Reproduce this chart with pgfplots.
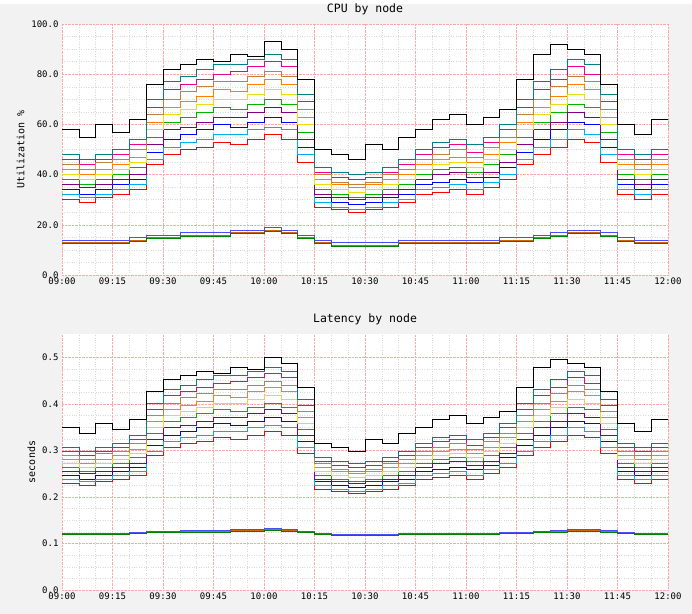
\documentclass[border=0pt]{standalone}
\usepackage{pgfplots}
\usepackage{pgfplotstable}
\usepackage{fontspec}
\setmainfont{DejaVu Sans Mono}
\pgfplotsset{compat=1.18}
\pgfplotstableread{
t s1 s2 s3 s4 s5 s6 s7 s8 s9 s10 mx l1 l2 l3
0 30 34 38 42 46 32 36 40 44 48 58 13 14 12.5
5 29 32 36 40 44 31 35 38 42 46 55 13 14 12.5
10 31 34 38 42 46 32 36 40 45 48 60 13 14 12.5
15 32 36 40 44 48 34 38 42 46 50 57 13 14 12.5
20 34 38 43 47 52 36 40 45 50 54 62 14 15 13.5
25 44 49 55 61 67 46 52 58 64 70 76 15 16 14.5
30 48 54 61 67 74 51 58 64 70 77 82 15 16 14.5
35 50 56 63 69 76 53 59 66 73 79 84 16 17 15.5
40 51 58 65 71 78 54 61 68 75 82 86 16 17 15.5
45 53 60 67 74 80 56 63 70 77 84 85 16 17 15.5
50 52 59 66 73 81 56 63 70 77 84 88 17 18 16.5
55 54 61 68 76 83 58 65 72 79 86 87 17 18 16.5
60 56 63 70 78 85 59 67 74 81 88 93 18 19 17.5
65 54 61 68 76 83 58 65 72 79 86 90 17 18 16.5
70 45 51 57 63 69 48 54 60 66 72 78 15 16 14.5
75 27 31 34 38 41 29 32 36 40 43 50 13 14 12.5
80 26 29 32 36 39 27 31 34 37 41 48 12 13 11.5
85 25 28 31 35 38 26 30 33 36 40 46 12 13 11.5
90 26 29 32 36 39 27 31 34 37 41 52 12 13 11.5
95 27 31 34 38 41 29 32 36 40 43 50 12 13 11.5
100 29 32 36 40 44 30 34 38 42 46 55 13 14 12.5
105 32 36 40 44 48 34 38 42 46 50 58 13 14 12.5
110 33 37 42 46 51 35 40 44 48 53 62 13 14 12.5
115 34 38 43 47 52 36 41 45 50 54 64 13 14 12.5
120 32 37 41 45 49 34 39 43 47 52 60 13 14 12.5
125 35 39 44 48 53 37 41 46 51 55 63 13 14 12.5
130 38 43 48 53 58 40 45 50 55 60 66 14 15 13.5
135 44 49 55 61 67 46 52 58 64 70 78 14 15 13.5
140 48 54 61 67 74 51 58 64 70 77 88 15 16 14.5
145 51 58 65 71 78 54 61 68 75 82 92 16 17 15.5
150 54 61 68 76 83 58 65 72 79 86 90 17 18 16.5
155 53 60 67 74 80 56 63 70 77 84 88 17 18 16.5
160 45 51 57 63 69 48 54 60 66 72 76 16 17 15.5
165 32 36 40 44 48 34 38 42 46 50 60 14 15 13.5
170 30 34 38 42 46 32 36 40 44 48 56 13 14 12.5
175 32 36 40 44 48 34 38 42 46 50 62 13 14 12.5
180 30 34 38 42 46 32 36 40 44 48 58 13 14 12.5
}\cpu
\definecolor{bg}{RGB}{242,242,242}
\pgfplotsset{
  common/.style={
    scale only axis, width=606pt, xmin=0, xmax=180,
    xtick={0,15,...,180},
    xticklabels={09:00,09:15,09:30,09:45,10:00,10:15,10:30,10:45,11:00,11:15,11:30,11:45,12:00},
    xticklabel style={text height=1.6ex, text depth=0.2ex, inner sep=1pt},
    minor x tick num=2, minor y tick num=3,
    grid=both,
    major grid style={red!35, densely dotted},
    minor grid style={gray!30, dotted},
    axis background/.style={fill=white},
    axis line style={draw=none},
    tick style={draw=none},
    tick label style={font=\fontsize{9}{10}\selectfont},
    label style={font=\fontsize{10}{11}\selectfont},
    title style={font=\fontsize{11.5}{13}\selectfont},
    /pgf/number format/assume math mode=true,
    yticklabel style={/pgf/number format/.cd,fixed,fixed zerofill,precision=1},
    every axis plot/.append style={const plot, line width=0.6pt, no marks},
    cycle list={{red},{blue},{green!70!black},{orange},{magenta},{cyan},{violet},{yellow!90!black},{brown},{teal}},
  }
}
\begin{document}
\begin{tikzpicture}[x=1pt,y=1pt]
\fill[bg] (0,0) rectangle (692,610);
\begin{axis}[common, at={(62pt,339pt)}, anchor=south west, height=251pt,
  ymin=0, ymax=100, ytick={0,20,...,100}, ylabel={Utilization \%},
  title={CPU by node}]
\pgfplotsinvokeforeach{s1,s2,s3,s4,s5,s6,s7,s8,s9,s10}{\addplot table[x=t,y=#1]{\cpu};}
\addplot[black] table[x=t,y=mx]{\cpu};
\addplot[orange!80!black] table[x=t,y=l1]{\cpu};
\addplot[blue!70] table[x=t,y=l2]{\cpu};
\addplot[green!50!black] table[x=t,y=l3]{\cpu};
\end{axis}
\begin{axis}[common, at={(62pt,24pt)}, anchor=south west, height=256pt,
  ymin=0, ymax=0.55, ytick={0,0.1,...,0.5}, ylabel={seconds},
  title={Latency by node}]
\pgfplotsinvokeforeach{s1,s2,s3,s4,s5,s6,s7,s8,s9,s10}{\addplot table[x=t,y expr={0.1+0.0043*\thisrow{#1}}]{\cpu};}
\addplot[black] table[x=t,y expr={0.1+0.0043*\thisrow{mx}}]{\cpu};
\addplot[orange!80!black] table[x=t,y expr={0.12+0.002*(\thisrow{l1}-13)}]{\cpu};
\addplot[blue!70] table[x=t,y expr={0.12+0.002*(\thisrow{l2}-13)}]{\cpu};
\addplot[green!50!black] table[x=t,y expr={0.12+0.002*(\thisrow{l3}-13)}]{\cpu};
\end{axis}
\end{tikzpicture}
\end{document}
